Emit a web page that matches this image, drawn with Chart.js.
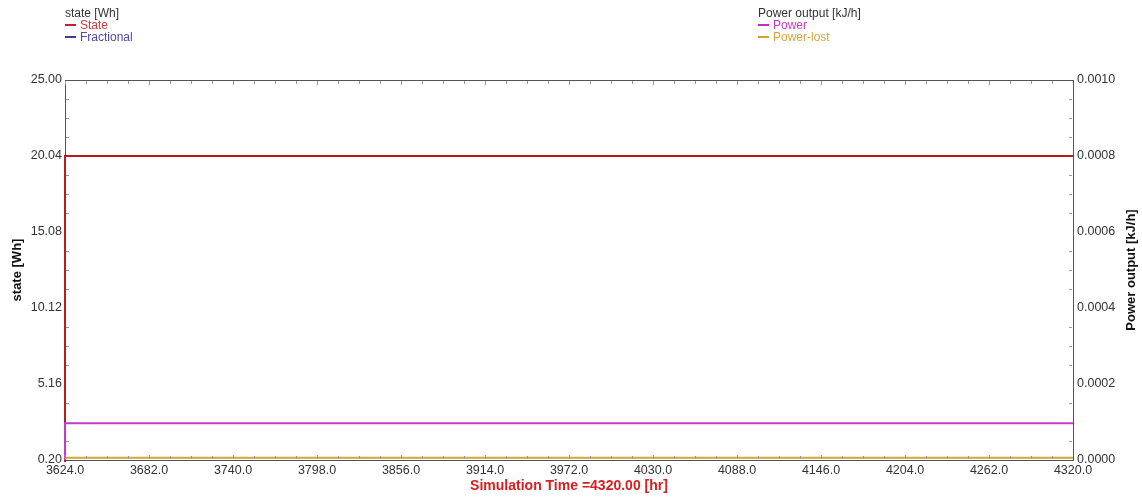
<!DOCTYPE html>
<html>
<head>
<meta charset="utf-8">
<script src="https://cdn.jsdelivr.net/npm/chart.js@4.4.1/dist/chart.umd.min.js"></script>
<style>
  html, body { margin: 0; padding: 0; background: #fff; }
  #wrap { position: relative; width: 1142px; height: 497px; }
  canvas { position: absolute; left: 0; top: 0; }
  .legend { position: absolute; font-family: "Liberation Sans", Arial, sans-serif; font-size: 12px; line-height: 12px; color: #333; }
  .legend .row { display: flex; align-items: center; height: 12px; }
  .legend .mark { display: inline-block; width: 11px; height: 2px; margin-right: 4px; }
</style>
</head>
<body>
<div id="wrap">
  <canvas id="c" width="1142" height="497"></canvas>
  <div class="legend" style="left:65px; top:7px;">
    <div class="row">state [Wh]</div>
    <div class="row" style="color:#d03a3a"><span class="mark" style="background:#c42020"></span>State</div>
    <div class="row" style="color:#4a4aaa"><span class="mark" style="background:#3a3a9a"></span>Fractional</div>
  </div>
  <div class="legend" style="left:758px; top:7px;">
    <div class="row">Power output [kJ/h]</div>
    <div class="row" style="color:#c43cc4"><span class="mark" style="background:#c030c0"></span>Power</div>
    <div class="row" style="color:#d2a63c"><span class="mark" style="background:#d4a030"></span>Power-lost</div>
  </div>
</div>
<script>
// Simulation time samples [hr]
const timeHours = [3624, 3624, 4320];
// Left axis series [Wh]
const stateWh = [0, 20.04, 20.04];
const fractional = [0, 0, 0];
// Right axis series [kJ/h]
const powerKJh = [0, 0.000097, 0.000097];
const powerLostKJh = [0, 0.000006, 0.000006];

// Axis tick values
const xTicks = [3624, 3682, 3740, 3798, 3856, 3914, 3972, 4030, 4088, 4146, 4204, 4262, 4320];
const yLeftTicks = [0.20, 5.16, 10.12, 15.08, 20.04, 25.00];
const yRightTicks = [0.0000, 0.0002, 0.0004, 0.0006, 0.0008, 0.0010];

const FONT = '"Liberation Sans", Arial, sans-serif';

function pts(ys) { return timeHours.map((t, i) => ({ x: t, y: ys[i] })); }

// Inward major/minor tick marks, top frame line and right-hand axis title
const framePlugin = {
  id: 'frame',
  afterDraw(chart) {
    const { ctx, chartArea: a, scales } = chart;
    ctx.save();
    ctx.strokeStyle = '#555';
    ctx.lineWidth = 1;
    ctx.beginPath();
    ctx.moveTo(a.left, a.top + 0.5);
    ctx.lineTo(a.right, a.top + 0.5);
    ctx.stroke();

    ctx.strokeStyle = '#999';
    const sub = 4;
    // x ticks (bottom and top)
    for (let i = 0; i < xTicks.length - 1; i++) {
      for (let k = 0; k < sub; k++) {
        const v = xTicks[i] + (xTicks[i + 1] - xTicks[i]) * k / sub;
        const px = Math.round(scales.x.getPixelForValue(v)) + 0.5;
        const len = k === 0 ? 4 : 3;
        ctx.beginPath();
        ctx.moveTo(px, a.bottom - 1); ctx.lineTo(px, a.bottom - 1 - len);
        ctx.moveTo(px, a.top + 1); ctx.lineTo(px, a.top + 1 + len);
        ctx.stroke();
      }
    }
    // y ticks left and right
    const yAxes = [[scales.y, yLeftTicks, a.left + 1, 1], [scales.y1, yRightTicks, a.right - 1, -1]];
    for (const [sc, ticks, x0, dir] of yAxes) {
      for (let i = 0; i < ticks.length - 1; i++) {
        for (let k = 1; k < sub; k++) {
          const v = ticks[i] + (ticks[i + 1] - ticks[i]) * k / sub;
          const py = Math.round(sc.getPixelForValue(v)) + 0.5;
          ctx.beginPath();
          ctx.moveTo(x0, py); ctx.lineTo(x0 + dir * 3, py);
          ctx.stroke();
        }
      }
    }

    // right axis title, reading bottom to top
    ctx.fillStyle = '#111';
    ctx.font = 'bold 13px ' + FONT;
    ctx.textAlign = 'center';
    ctx.textBaseline = 'middle';
    ctx.translate(1131, (a.top + a.bottom) / 2);
    ctx.rotate(-Math.PI / 2);
    ctx.fillText('Power output [kJ/h]', 0, 0);
    ctx.restore();
  }
};

function fixWidth(w) { return s => { s.width = w; }; }

const lineStyle = { borderWidth: 2, clip: 2 };

new Chart(document.getElementById('c'), {
  type: 'line',
  data: {
    datasets: [
      { label: 'State', data: pts(stateWh), yAxisID: 'y', borderColor: '#b81c1c', order: 3, ...lineStyle },
      { label: 'Fractional', data: pts(fractional), yAxisID: 'y', borderColor: '#3a3a9a', order: 4, ...lineStyle },
      { label: 'Power', data: pts(powerKJh), yAxisID: 'y1', borderColor: '#c838c8', order: 1, ...lineStyle },
      { label: 'Power-lost', data: pts(powerLostKJh), yAxisID: 'y1', borderColor: '#d4a438', order: 2, ...lineStyle }
    ]
  },
  options: {
    responsive: false,
    animation: false,
    events: [],
    elements: { point: { radius: 0 }, line: { tension: 0 } },
    layout: { padding: { top: 80, left: 0, right: 0, bottom: 0 } },
    plugins: { legend: { display: false }, tooltip: { enabled: false } },
    scales: {
      x: {
        type: 'linear',
        min: 3624, max: 4320,
        afterBuildTicks: s => { s.ticks = xTicks.map(v => ({ value: v })); },
        afterFit: s => { s.height = 37; },
        grid: { display: true, drawOnChartArea: false, drawTicks: false },
        border: { display: true, color: '#555', width: 1 },
        ticks: {
          padding: 3, maxRotation: 0, autoSkip: false, color: '#333',
          font: { family: FONT, size: 12.5 },
          callback: v => v.toFixed(1)
        },
        title: {
          display: true, text: 'Simulation Time =4320.00 [hr]', color: '#d42020',
          font: { family: FONT, size: 14, weight: 'bold' }, padding: { top: 0, bottom: 2 }
        }
      },
      y: {
        position: 'left',
        min: 0.2, max: 25,
        afterBuildTicks: s => { s.ticks = yLeftTicks.map(v => ({ value: v })); },
        afterFit: fixWidth(65),
        grid: { display: true, drawOnChartArea: false, drawTicks: false },
        border: { display: true, color: '#555', width: 1 },
        ticks: {
          padding: 3, color: '#333', font: { family: FONT, size: 12.5 },
          callback: v => v.toFixed(2)
        },
        title: {
          display: true, text: 'state [Wh]', color: '#111',
          font: { family: FONT, size: 13, weight: 'bold' }, padding: { top: 10, bottom: 0 }
        }
      },
      y1: {
        position: 'right',
        min: 0, max: 0.001,
        afterBuildTicks: s => { s.ticks = yRightTicks.map(v => ({ value: v })); },
        afterFit: fixWidth(69),
        grid: { display: true, drawOnChartArea: false, drawTicks: false },
        border: { display: true, color: '#555', width: 1 },
        ticks: {
          padding: 4, color: '#333', font: { family: FONT, size: 12.5 },
          callback: v => v.toFixed(4)
        },
        title: { display: false }
      }
    }
  },
  plugins: [framePlugin]
});
</script>
</body>
</html>
